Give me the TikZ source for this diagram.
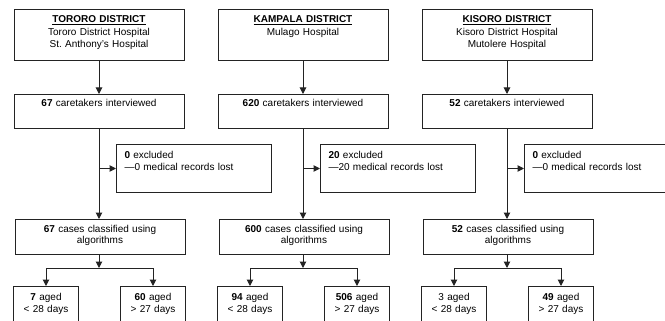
\documentclass[tikz,border=0pt]{standalone}
\usepackage{fontspec}
\setmainfont{Liberation Sans}
\usetikzlibrary{arrows.meta,positioning}
\definecolor{LineGray}{RGB}{35,35,35}
\tikzset{
  flowbox/.style={draw=LineGray,line width=1pt,align=center,
    inner xsep=2pt,text height=7pt},
  distbox/.style={flowbox,anchor=north,text width=166pt,
    inner ysep=6.5pt,text depth=31pt},
  countbox/.style={flowbox,anchor=north,text width=166pt,
    inner ysep=5pt,text depth=17pt},
  exclbox/.style={flowbox,anchor=north west,align=left,text width=139pt,
    inner xsep=8pt,inner ysep=6.5pt,text depth=28pt},
  casebox/.style={flowbox,anchor=north,text width=166pt,
    inner ysep=6pt,text depth=16pt,font=\fontsize{10}{11}\selectfont},
  agebox/.style={flowbox,anchor=north,text width=61pt,
    inner ysep=7pt,text depth=15pt},
  arrow/.style={-{Triangle[length=6.5pt,width=6.5pt]},line width=1pt,LineGray}
}
\begin{document}
\begin{tikzpicture}[x=1pt,y=-1pt,font=\fontsize{10}{12.3}\selectfont]
  \useasboundingbox (0,0) rectangle (665,321);
  \foreach \x/\col/\dist/\hosp/\cnt/\exc/\cas/\yng/\old in {
      99/T/{TORORO DISTRICT}/{Tororo District Hospital\\St.\ Anthony's Hospital}/67/0/67/{\textbf{7}}/{\textbf{60}},
      303/K/{KAMPALA DISTRICT}/{Mulago Hospital}/620/20/600/{\textbf{94}}/{\textbf{506}},
      507/S/{KISORO DISTRICT}/{Kisoro District Hospital\\Mutolere Hospital}/52/0/52/{3}/{\textbf{49}}}{
    \node[distbox] (top\col) at (\x,9) {\underline{\textbf{\dist}}\\\hosp};
    \node[countbox] (count\col) at (\x,94) {\textbf{\cnt} caretakers interviewed};
    \node[exclbox] (excl\col) at (\x+17,144)
      {\textbf{\exc} excluded\\\textemdash\exc{} medical records lost};
    \node[casebox] (cases\col) at (\x+1,219)
      {\textbf{\cas} cases classified using\\algorithms};
    \node[agebox] (young\col) at (\x-53,286) {\yng{} aged\\< 28 days};
    \node[agebox] (old\col) at (\x+54,286) {\old{} aged\\> 27 days};
    \coordinate (split\col) at (\x,268);
    % trunk and side branch
    \draw[arrow] (top\col) -- (count\col);
    \draw[arrow] (count\col) -- (count\col |- cases\col.north);
    \draw[arrow] (count\col |- excl\col.west) -- (excl\col.west);
    % split by age
    \draw[arrow] (count\col |- cases\col.south) -- (split\col);
    \draw[arrow] (split\col) -| (young\col);
    \draw[arrow] (split\col) -| (old\col);
  }
\end{tikzpicture}
\end{document}
